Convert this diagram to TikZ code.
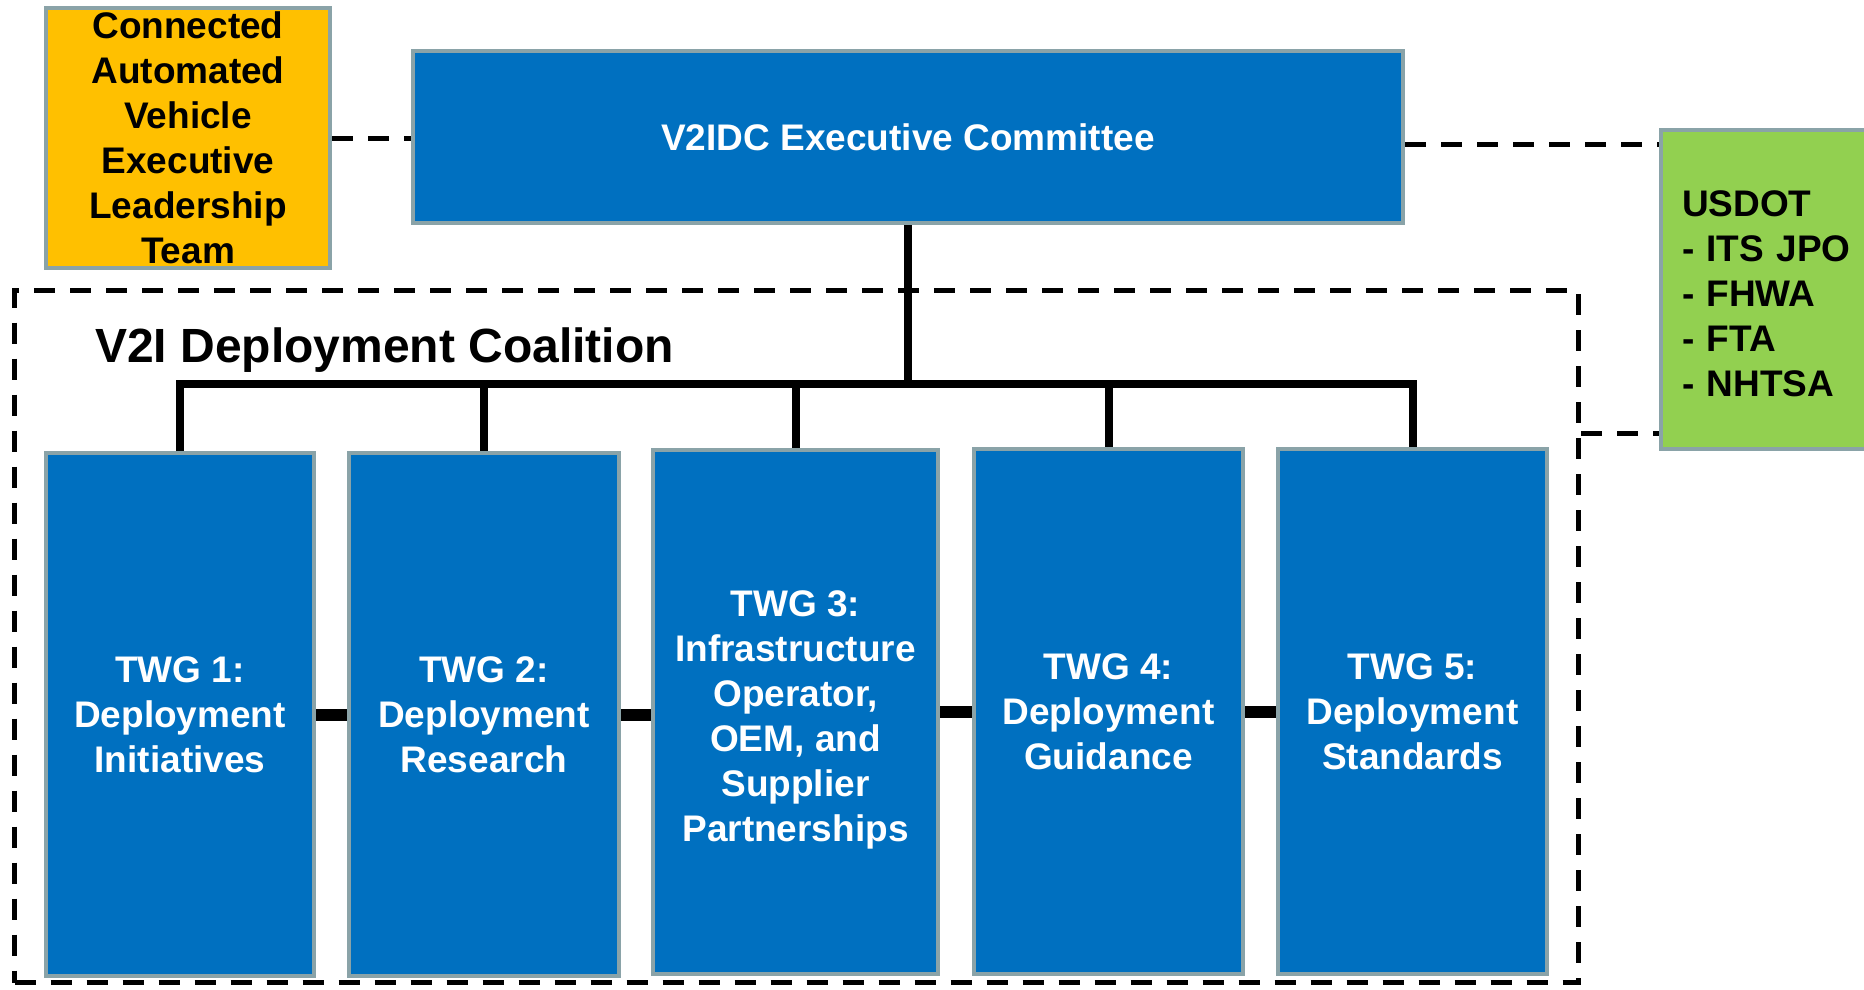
\documentclass[tikz,border=0pt]{standalone}
\usepackage{fontspec}
\setmainfont{Liberation Sans}
\definecolor{boxblue}{RGB}{0,112,192}
\definecolor{boxyellow}{RGB}{255,192,0}
\definecolor{boxgreen}{RGB}{146,208,80}
\definecolor{boxrim}{RGB}{138,163,168}
\tikzset{
  orgbox/.style={draw=boxrim, line width=4pt, rectangle, inner sep=0pt, align=center,
    font=\fontsize{37}{45}\selectfont\bfseries},
  bluebox/.style={orgbox, fill=boxblue, text=white},
  dashlink/.style={draw=black, line width=5pt, dash pattern=on 21pt off 15pt},
  solidlink/.style={draw=black, line width=8pt},
  twglink/.style={draw=black, line width=12pt},
}
\begin{document}
\begin{tikzpicture}[x=1pt,y=-1pt]
\useasboundingbox (0,0) rectangle (1864,989);
% coalition frame
\node[dashlink, rectangle, minimum width=1564pt, minimum height=692pt, inner sep=0pt] (coal) at (796.5,636.5) {};
\node[anchor=base west, inner sep=0pt, font=\fontsize{48}{56}\selectfont\bfseries] (title) at (95,362) {V2I Deployment Coalition};
% boxes
\node[orgbox, fill=boxyellow, text=black, minimum width=284pt, minimum height=260pt] (cav) at (188,138)
  {Connected\\Automated\\Vehicle\\Executive\\Leadership\\Team};
\node[bluebox, minimum width=990pt, minimum height=172pt] (exec) at (908,137) {V2IDC Executive Committee};
\node[orgbox, fill=boxgreen, text=black, align=left, minimum width=217pt, minimum height=319pt,
  inner xsep=21pt, text width=175pt] (usdot) at (1769.5,289.5)
  {\rule{0pt}{34pt}USDOT\\- ITS JPO\\- FHWA\\- FTA\\- NHTSA};
\node[bluebox, minimum width=268pt, minimum height=523pt] (t1) at (180,714.5) {TWG 1:\\Deployment\\Initiatives};
\node[bluebox, minimum width=270pt, minimum height=523pt] (t2) at (484,714.5) {TWG 2:\\Deployment\\Research};
\node[bluebox, minimum width=285pt, minimum height=524pt] (t3) at (795.5,712) {\rule{0pt}{41pt}TWG 3:\\Infrastructure\\Operator,\\OEM, and\\Supplier\\Partnerships};
\node[bluebox, minimum width=269pt, minimum height=525pt] (t4) at (1108.5,711.5) {TWG 4:\\Deployment\\Guidance};
\node[bluebox, minimum width=269pt, minimum height=525pt] (t5) at (1412.5,711.5) {TWG 5:\\Deployment\\Standards};
% dashed links
\coordinate (dA) at (0,144);
\coordinate (dB) at (0,433);
\draw[dashlink] (cav.east) -- (cav.east -| exec.west);
\draw[dashlink] (exec.east |- dA) -- (usdot.west |- dA);
\draw[dashlink] (coal.east |- dB) -- (usdot.west |- dB);
% tree
\coordinate (bus) at (908,384);
\draw[solidlink] (exec.south) -- (exec.south |- bus);
\draw[solidlink, line join=miter] (t1.north) -- (t1.north |- bus) -- (t5.north |- bus) -- (t5.north);
\draw[solidlink] (t2.north |- bus) -- (t2.north);
\draw[solidlink] (t3.north |- bus) -- (t3.north);
\draw[solidlink] (t4.north |- bus) -- (t4.north);
% horizontal links
\draw[twglink] (t1.east) -- (t1.east -| t2.west);
\draw[twglink] (t2.east) -- (t2.east -| t3.west);
\draw[twglink] (t3.east) -- (t3.east -| t4.west);
\draw[twglink] (t4.east) -- (t4.east -| t5.west);
\end{tikzpicture}
\end{document}
